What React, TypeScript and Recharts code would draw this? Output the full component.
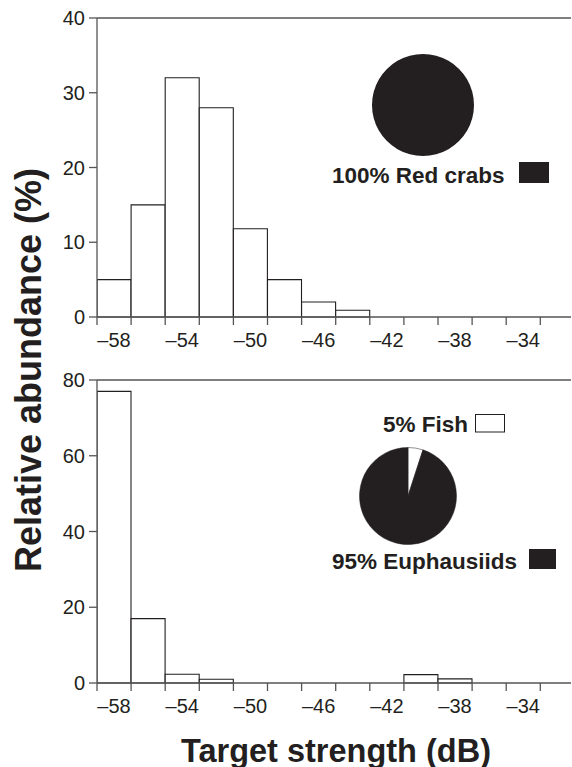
import React from 'react';
import { BarChart, Bar, XAxis, YAxis, ReferenceLine, PieChart, Pie, Cell } from 'recharts';

// ---------------------------------------------------------------------------
// Data
// ---------------------------------------------------------------------------
// 2 dB target-strength bins, labelled by their centre
const BIN_CENTERS = [-58, -56, -54, -52, -50, -48, -46, -44, -42, -40, -38, -36, -34];
const RED_CRAB_PCT = [5, 15, 32, 28, 11.8, 5, 2, 0.9, 0, 0, 0, 0, 0];
const EUPHAUSIID_PCT = [77, 17, 2.3, 1, 0, 0, 0, 0, 0, 2.2, 1.1, 0, 0];

// bin edges get a tick mark, every other bin centre gets a label
const EDGE_TICKS = [-59, -57, -55, -53, -51, -49, -47, -45, -43, -41, -39, -37, -35, -33];
const LABEL_TICKS = [-58, -54, -50, -46, -42, -38, -34];
const X_DOMAIN: [number, number] = [-59, -31.2];

const TOP_Y_TICKS = [0, 10, 20, 30, 40];
const BOTTOM_Y_TICKS = [0, 20, 40, 60, 80];

const TOP_PIE = [{ name: 'Red crabs', value: 100 }];
const BOTTOM_PIE = [
  { name: 'Fish', value: 5 },
  { name: 'Euphausiids', value: 95 },
];

// ---------------------------------------------------------------------------
// Style
// ---------------------------------------------------------------------------
const INK = '#231f20';
const AXIS = '#555555';
const FONT = '"Liberation Sans", Arial, sans-serif';

const topData = BIN_CENTERS.map((ts, i) => ({ ts, pct: RED_CRAB_PCT[i] }));
const bottomData = BIN_CENTERS.map((ts, i) => ({ ts, pct: EUPHAUSIID_PCT[i] }));
const allXTicks = [...EDGE_TICKS, ...LABEL_TICKS].sort((a, b) => a - b);

function XTick(props: any) {
  const { x, y, payload } = props;
  const v = payload.value;
  if (EDGE_TICKS.includes(v)) {
    return <line x1={x} x2={x} y1={y - 8} y2={y} stroke={AXIS} strokeWidth={1.3} />;
  }
  if (LABEL_TICKS.includes(v)) {
    return (
      <text x={x} y={y + 22} textAnchor="middle" fontSize={20} fill={INK} fontFamily={FONT}>
        {`\u2013${Math.abs(v)}`}
      </text>
    );
  }
  return <g />;
}

function Histogram({
  data,
  yTicks,
  top,
  height,
}: {
  data: { ts: number; pct: number }[];
  yTicks: number[];
  top: number;
  height: number;
}) {
  const yMax = yTicks[yTicks.length - 1];
  return (
    <div style={{ position: 'absolute', left: 0, top }}>
      <BarChart
        width={572}
        height={height}
        data={data}
        margin={{ top: 18, right: 1, bottom: 0, left: 0 }}
        barCategoryGap={0}
      >
        <XAxis
          dataKey="ts"
          type="number"
          domain={X_DOMAIN}
          allowDataOverflow
          ticks={allXTicks}
          interval={0}
          tickSize={8}
          tickMargin={0}
          tickLine={false}
          tick={<XTick />}
          height={44}
          axisLine={{ stroke: AXIS, strokeWidth: 1.3 }}
        />
        <YAxis
          type="number"
          domain={[0, yMax]}
          ticks={yTicks}
          interval={0}
          width={97}
          tickSize={8}
          tickMargin={4}
          tick={{ fontSize: 20, fill: INK, fontFamily: FONT }}
          tickLine={{ stroke: AXIS, strokeWidth: 1.3 }}
          axisLine={{ stroke: AXIS, strokeWidth: 1.3 }}
        />
        <ReferenceLine y={yMax} stroke={AXIS} strokeWidth={1.3} />
        <Bar dataKey="pct" fill="#ffffff" stroke={INK} strokeWidth={1.1} isAnimationActive={false} />
      </BarChart>
    </div>
  );
}

export default function App() {
  return (
    <div
      style={{
        position: 'absolute',
        left: 0,
        top: 0,
        width: 572,
        height: 767,
        overflow: 'hidden',
        background: '#ffffff',
        fontFamily: FONT,
      }}
    >
      <Histogram data={topData} yTicks={TOP_Y_TICKS} top={0} height={361} />
      <Histogram data={bottomData} yTicks={BOTTOM_Y_TICKS} top={362} height={365} />

      {/* Diet composition pies */}
      <div style={{ position: 'absolute', left: 358, top: 40 }}>
        <PieChart width={120} height={120}>
          <Pie
            data={TOP_PIE}
            dataKey="value"
            cx={60}
            cy={60}
            outerRadius={51}
            startAngle={90}
            endAngle={-270}
            stroke="none"
            isAnimationActive={false}
          >
            <Cell fill={INK} />
          </Pie>
        </PieChart>
      </div>
      <div style={{ position: 'absolute', left: 343, top: 431 }}>
        <PieChart width={120} height={120}>
          <Pie
            data={BOTTOM_PIE}
            dataKey="value"
            cx={60}
            cy={60}
            outerRadius={48.5}
            startAngle={90}
            endAngle={-270}
            stroke={INK}
            strokeWidth={0.5}
            isAnimationActive={false}
          >
            <Cell fill="#ffffff" />
            <Cell fill={INK} />
          </Pie>
        </PieChart>
      </div>

      {/* Titles and pie keys */}
      <svg
        width={572}
        height={767}
        style={{ position: 'absolute', left: 0, top: 0, pointerEvents: 'none' }}
        fontFamily={FONT}
        fontWeight="bold"
        fill={INK}
      >
        <text x={332} y={183} fontSize={22.5}>100% Red crabs</text>
        <rect x={519} y={162} width={30} height={21} fill={INK} />

        <text x={383} y={432} fontSize={22.5}>5% Fish</text>
        <rect x={475.5} y={414.5} width={29} height={17.5} fill="#ffffff" stroke={INK} strokeWidth={1} />

        <text x={332} y={569} fontSize={22.5}>95% Euphausiids</text>
        <rect x={529} y={549} width={27} height={20} fill={INK} />

        <text x={40.5} y={370} fontSize={36} textAnchor="middle" transform="rotate(-90 40.5 370)">
          Relative abundance (%)
        </text>
        <text x={336} y={761.5} fontSize={32.5} textAnchor="middle">
          Target strength (dB)
        </text>
      </svg>
    </div>
  );
}
